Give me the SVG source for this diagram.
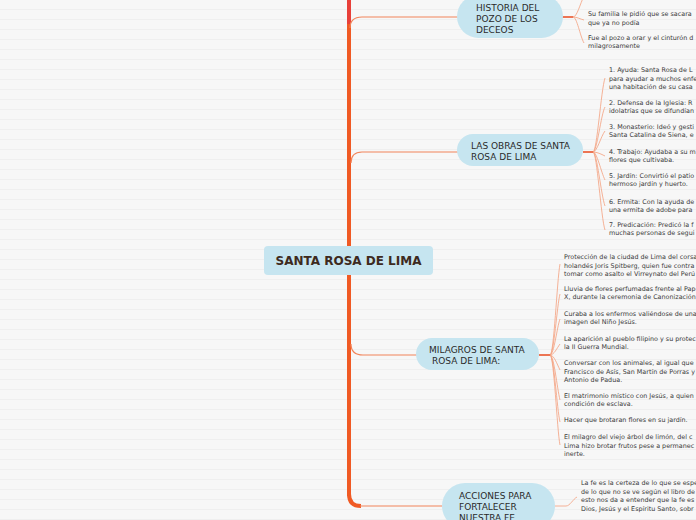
<svg xmlns="http://www.w3.org/2000/svg" width="696" height="520" viewBox="0 0 696 520">
<defs>
<pattern id="stripes" width="10" height="10" patternUnits="userSpaceOnUse">
<rect width="10" height="10" fill="#f7f7f7"/>
<rect y="9" width="10" height="1" fill="#efefef"/>
</pattern>
</defs>
<style>
.leaf{font-family:"DejaVu Sans",Verdana,sans-serif;font-size:6.4px;fill:#3a3a3a}
.nlab{font-family:"DejaVu Sans",Verdana,sans-serif;font-size:9px;fill:#2a2a2a}
.root{font-family:"DejaVu Sans",Verdana,sans-serif;font-size:12px;font-weight:bold;fill:#3d2a20}
.node{fill:#c6e5f0}
.trunk{fill:none;stroke:#f05a24;stroke-width:4}
.branch{fill:none;stroke:#f2845a;stroke-width:1.2}
.hub{fill:none;stroke:#e9532a;stroke-width:1.6}
.fan{fill:none;stroke:#f4a07e;stroke-width:0.8}
</style>
<rect width="696" height="520" fill="url(#stripes)"/>

<g id="connectors">
<path d="M349,0 V24" stroke="#e8403a" stroke-width="4" fill="none"/>
<path class="trunk" d="M349,24 V496"/>
<path class="branch" d="M350,28 Q350,17 362,17 H458"/>
<path class="branch" d="M351,163 Q351,152 362,152 H458"/>
<path class="branch" d="M351,344 Q351,355 363,355 H417"/>
<path class="trunk" d="M349,494 Q349,506 361,506"/>
<path class="branch" d="M360,506 H442"/>
<path class="hub" d="M562,17 H573"/>
<path class="fan" d="M573,17 C577,17 580,4 584,-4"/>
<path class="fan" d="M573,17 C577,17 580,19 584,20"/>
<path class="fan" d="M573,17 C577,17 580,36 584,43"/>
<path class="hub" d="M583,152 H593"/>
<path class="fan" d="M593,152 C597,152 601,90 605,78"/>
<path class="fan" d="M593,152 C597,152 601,114 605,107"/>
<path class="fan" d="M593,152 C597,152 601,136 605,131"/>
<path class="fan" d="M593,152 C597,152 601,154 605,156"/>
<path class="fan" d="M593,152 C597,152 601,172 605,180"/>
<path class="fan" d="M593,152 C597,152 601,195 605,206"/>
<path class="fan" d="M593,152 C597,152 601,218 605,230"/>
<path class="hub" d="M539,355 H550"/>
<path class="fan" d="M550,355 C554,355 557,280 560,264"/>
<path class="fan" d="M550,355 C554,355 557,305 560,294"/>
<path class="fan" d="M550,355 C554,355 557,327 560,319"/>
<path class="fan" d="M550,355 C554,355 557,348 560,344"/>
<path class="fan" d="M550,355 C554,355 557,364 560,370"/>
<path class="fan" d="M550,355 C554,355 557,388 560,400"/>
<path class="fan" d="M550,355 C554,355 557,410 560,422"/>
<path class="fan" d="M550,355 C554,355 557,430 560,445"/>
<path class="fan" d="M555,506 H566 C570,506 573,499 577,497" stroke-width="1.2"/>
</g>

<g id="root">
<rect x="264" y="246" width="169" height="29" rx="4" class="node"/>
<text x="348.5" y="265" text-anchor="middle" class="root">SANTA ROSA DE LIMA</text>
</g>

<g id="historia">
<rect x="457" y="-5" width="106" height="43" rx="21.5" class="node"/>
<text class="nlab" x="476" y="10.5">HISTORIA DEL</text>
<text class="nlab" x="476" y="21.5">POZO DE LOS</text>
<text class="nlab" x="476" y="32.5">DECEOS</text>
</g>
<g id="historia-leaves">
<text class="leaf" x="588" y="16.3">Su familia le pidió que se sacara</text>
<text class="leaf" x="588" y="24.5">que ya no podía</text>
<text class="leaf" x="588" y="40">Fue al pozo a orar y el cinturón d</text>
<text class="leaf" x="588" y="48.3">milagrosamente</text>
</g>

<g id="obras">
<rect x="457" y="134" width="126" height="32" rx="16" class="node"/>
<text class="nlab" x="471" y="149">LAS OBRAS DE SANTA</text>
<text class="nlab" x="471" y="160">ROSA DE LIMA</text>
</g>
<g id="obras-leaves">
<text class="leaf" x="609" y="72">1. Ayuda: Santa Rosa de L</text>
<text class="leaf" x="609" y="80.5">para ayudar a muchos enfe</text>
<text class="leaf" x="609" y="89">una habitación de su casa</text>
<text class="leaf" x="609" y="104.5">2. Defensa de la Iglesia: R</text>
<text class="leaf" x="609" y="113">idolatrías que se difundían</text>
<text class="leaf" x="609" y="128.5">3. Monasterio: Ideó y gesti</text>
<text class="leaf" x="609" y="137">Santa Catalina de Siena, e</text>
<text class="leaf" x="609" y="153.5">4. Trabajo: Ayudaba a su m</text>
<text class="leaf" x="609" y="162">flores que cultivaba.</text>
<text class="leaf" x="609" y="177.5">5. Jardín: Convirtió el patio</text>
<text class="leaf" x="609" y="186">hermoso jardín y huerto.</text>
<text class="leaf" x="609" y="203.5">6. Ermita: Con la ayuda de</text>
<text class="leaf" x="609" y="212">una ermita de adobe para</text>
<text class="leaf" x="609" y="226.5">7. Predicación: Predicó la f</text>
<text class="leaf" x="609" y="235">muchas personas de segui</text>
</g>

<g id="milagros">
<rect x="416" y="338" width="123" height="32" rx="16" class="node"/>
<text class="nlab" x="429" y="353">MILAGROS DE SANTA</text>
<text class="nlab" x="432" y="364">ROSA DE LIMA:</text>
</g>
<g id="milagros-leaves">
<text class="leaf" x="564" y="259">Protección de la ciudad de Lima del corsa</text>
<text class="leaf" x="564" y="267.5">holandés Joris Spitberg, quien fue contra</text>
<text class="leaf" x="564" y="276">tomar como asalto el Virreynato del Perú</text>
<text class="leaf" x="564" y="290.5">Lluvia de flores perfumadas frente al Pap</text>
<text class="leaf" x="564" y="299">X, durante la ceremonia de Canonización</text>
<text class="leaf" x="564" y="315.5">Curaba a los enfermos valiéndose de una</text>
<text class="leaf" x="564" y="324">imagen del Niño Jesús.</text>
<text class="leaf" x="564" y="340.5">La aparición al pueblo filipino y su protec</text>
<text class="leaf" x="564" y="349">la II Guerra Mundial.</text>
<text class="leaf" x="564" y="365">Conversar con los animales, al igual que</text>
<text class="leaf" x="564" y="373.5">Francisco de Asís, San Martín de Porras y</text>
<text class="leaf" x="564" y="382">Antonio de Padua.</text>
<text class="leaf" x="564" y="397.5">El matrimonio místico con Jesús, a quien</text>
<text class="leaf" x="564" y="406">condición de esclava.</text>
<text class="leaf" x="564" y="421.8">Hacer que brotaran flores en su jardín.</text>
<text class="leaf" x="564" y="439">El milagro del viejo árbol de limón, del c</text>
<text class="leaf" x="564" y="447.5">Lima hizo brotar frutos pese a permanec</text>
<text class="leaf" x="564" y="456">inerte.</text>
</g>

<g id="acciones">
<rect x="442" y="483" width="113" height="46" rx="23" class="node"/>
<text class="nlab" x="459" y="499">ACCIONES PARA</text>
<text class="nlab" x="459" y="510">FORTALECER</text>
<text class="nlab" x="459" y="521">NUESTRA FE</text>
</g>
<g id="acciones-leaves">
<text class="leaf" x="581" y="485">La fe es la certeza de lo que se espe</text>
<text class="leaf" x="581" y="493.5">de lo que no se ve según el libro de</text>
<text class="leaf" x="581" y="502">esto nos da a entender que la fe es</text>
<text class="leaf" x="581" y="510.5">Dios, Jesús y el Espíritu Santo, sobr</text>
</g>
</svg>
